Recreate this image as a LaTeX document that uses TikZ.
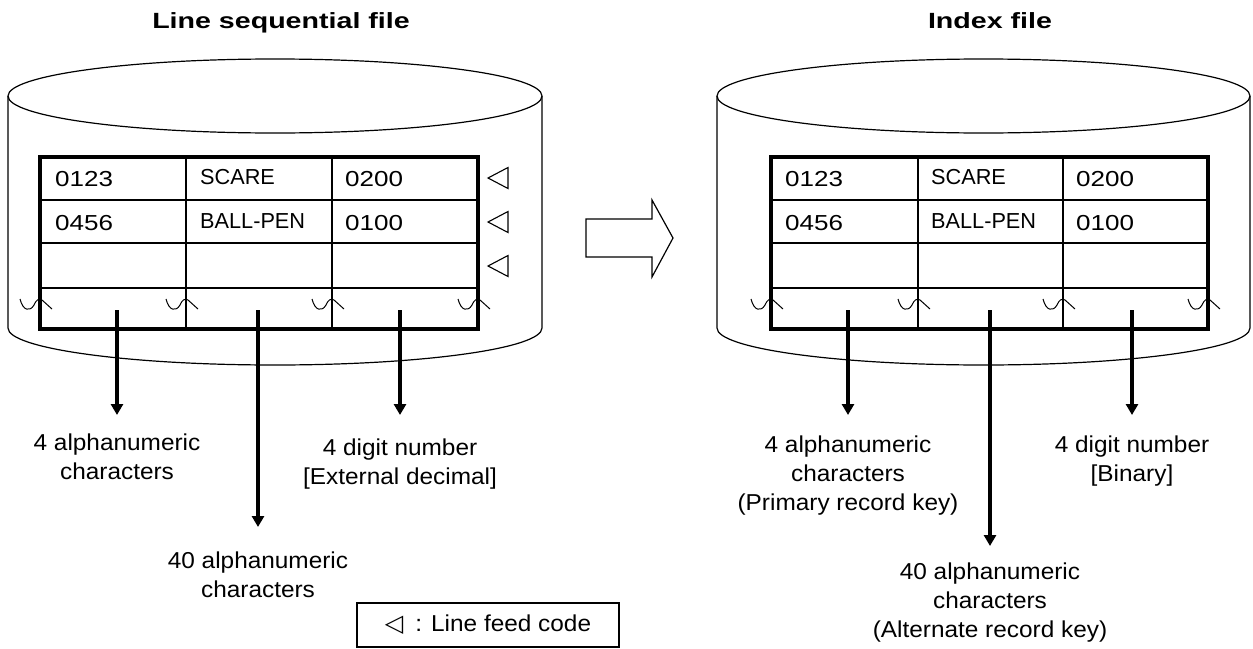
\documentclass[tikz,border=0pt]{standalone}
\usepackage{fontspec}
\setmainfont{Liberation Sans}
\newfontfamily\lblfont[FakeStretch=1.06]{Liberation Sans}
\newfontfamily\ttlfont[FakeStretch=1.3]{Liberation Sans}
\newfontfamily\digfont[FakeStretch=1.2]{Liberation Sans}
\newfontfamily\symfnt{DejaVu Sans}
\usetikzlibrary{arrows.meta}
\tikzset{
  cylline/.style={line width=1.2pt},
  gridline/.style={line width=1.4pt},
  outerline/.style={line width=4.5pt, line join=miter},
  downarrow/.style={line width=4pt, -{Triangle[length=11pt,width=12pt]}},
  lbl/.style={font=\lblfont\fontsize{23}{29}\selectfont, align=center, inner sep=0pt, anchor=north},
  cell/.style={font=\fontsize{21.7}{24}\selectfont, anchor=base west, inner sep=0pt},
  dcell/.style={font=\digfont\fontsize{21.7}{24}\selectfont, anchor=base west, inner sep=0pt},
  ttl/.style={font=\ttlfont\bfseries\fontsize{22}{26}\selectfont, anchor=base, inner sep=0pt},
  lfmark/.pic={\draw[line width=1.1pt, line join=miter] (0,0) -- (20,-10.5) -- (20,10.5) -- cycle;},
  brk/.pic={\draw[line width=1pt] (-20,-6) .. controls (-17,6) and (-10,7) .. (-6,0) .. controls (-4,-5) and (-1,-7) .. (2,-5) -- (12,4);}
}
\begin{document}
\begin{tikzpicture}[x=1pt,y=-1pt]
\useasboundingbox (0,0) rectangle (1253,648);

% titles
\node[ttl] (t1) at (281,28) {Line sequential file};
\node[ttl] (t2) at (990,28) {Index file};

% ---------- left cylinder ----------
\draw[cylline] (275,96) ellipse [x radius=267pt, y radius=37pt];
\draw[cylline] (8,96) -- (8,328) arc [start angle=180, end angle=360, x radius=267pt, y radius=37pt] -- (542,96);

% left table
\fill[white] (40,157) rectangle (478,329);
\draw[gridline] (40,200) -- (478,200) (40,243) -- (478,243) (40,288) -- (478,288)
  (186,157) -- (186,329) (332,157) -- (332,329);
\draw[outerline] (40,157) rectangle (478,329);

\node[dcell] (a11) at (55,186) {0123};
\node[cell]  (a12) at (200,184) {SCARE};
\node[dcell] (a13) at (345,186) {0200};
\node[dcell] (a21) at (55,230) {0456};
\node[cell]  (a22) at (200,228) {BALL-PEN};
\node[dcell] (a23) at (345,230) {0100};

\pic at (488,178) {lfmark};
\pic at (488,222) {lfmark};
\pic at (488,266) {lfmark};

\pic at (40,305) {brk};
\pic at (186,305) {brk};
\pic at (332,305) {brk};
\pic at (478,305) {brk};

% left arrows and labels
\coordinate (L1s) at (117,310); \coordinate (L1e) at (117,415);
\coordinate (L2s) at (258,310); \coordinate (L2e) at (258,527);
\coordinate (L3s) at (400,310); \coordinate (L3e) at (400,415);
\draw[downarrow] (L1s) -- (L1e);
\draw[downarrow] (L2s) -- (L2e);
\draw[downarrow] (L3s) -- (L3e);
\node[lbl] (L1) at (117,433.4) {4 alphanumeric\\characters};
\node[lbl] (L2) at (258,551.4) {40 alphanumeric\\characters};
\node[lbl] (L3) at (400,438.4) {4 digit number\\{}[External decimal]};

% ---------- middle hollow arrow ----------
\draw[cylline, line join=miter] (586,219) -- (652,219) -- (652,200) -- (673,238) -- (652,277) -- (652,257) -- (586,257) -- cycle;

% ---------- right cylinder ----------
\draw[cylline] (983.5,96) ellipse [x radius=266.5pt, y radius=37pt];
\draw[cylline] (717,96) -- (717,328) arc [start angle=180, end angle=360, x radius=266.5pt, y radius=37pt] -- (1250,96);

\fill[white] (771,157) rectangle (1208,329);
\draw[gridline] (771,200) -- (1208,200) (771,243) -- (1208,243) (771,288) -- (1208,288)
  (918,157) -- (918,329) (1063,157) -- (1063,329);
\draw[outerline] (771,157) rectangle (1208,329);

\node[dcell] (b11) at (785,186) {0123};
\node[cell]  (b12) at (931,184) {SCARE};
\node[dcell] (b13) at (1076,186) {0200};
\node[dcell] (b21) at (785,230) {0456};
\node[cell]  (b22) at (931,228) {BALL-PEN};
\node[dcell] (b23) at (1076,230) {0100};

\pic at (771,305) {brk};
\pic at (918,305) {brk};
\pic at (1063,305) {brk};
\pic at (1208,305) {brk};

\coordinate (R1s) at (848,310); \coordinate (R1e) at (848,415);
\coordinate (R2s) at (990,310); \coordinate (R2e) at (990,546);
\coordinate (R3s) at (1132,310); \coordinate (R3e) at (1132,415);
\draw[downarrow] (R1s) -- (R1e);
\draw[downarrow] (R2s) -- (R2e);
\draw[downarrow] (R3s) -- (R3e);
\node[lbl] (R1) at (848,435.4) {4 alphanumeric\\characters\\(Primary record key)};
\node[lbl] (R2) at (990,562.4) {40 alphanumeric\\characters\\(Alternate record key)};
\node[lbl] (R3) at (1132,435.4) {4 digit number\\{}[Binary]};

% legend
\node[draw, line width=1.1pt, minimum width=262pt, minimum height=44pt, inner sep=0pt,
  font=\lblfont\fontsize{23}{27}\selectfont] (legend) at (488,625)
  {{\symfnt\fontsize{24}{24}\selectfont ◁}\hspace{12pt}: Line feed code};
\end{tikzpicture}
\end{document}
